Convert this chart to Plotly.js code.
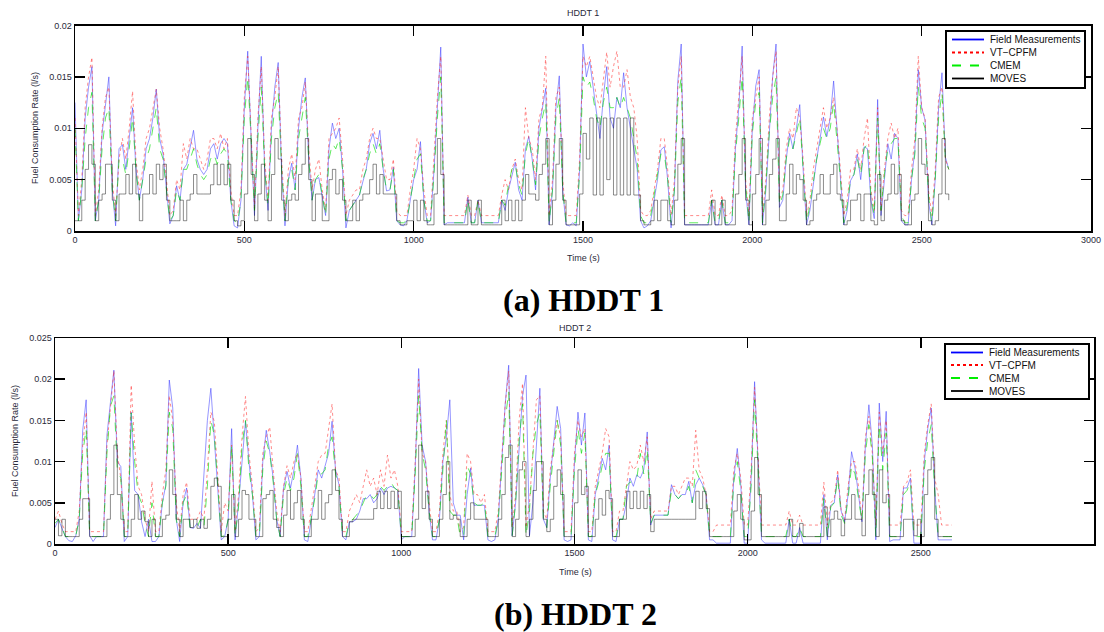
<!DOCTYPE html>
<html>
<head>
<meta charset="utf-8">
<script src="https://cdn.plot.ly/plotly-3.0.1.min.js"></script>
<style>html,body{margin:0;padding:0;background:#fff}#chart{width:1104px;height:632px}</style>
</head>
<body>
<div id="chart"></div>
<script>
// Sampling step of the read-off series (s); values below are in mL/s
const SAMPLE_STEP_S = 10;
const ML_PER_L = 1000;
const seriesNames = ['Field Measurements', 'VT\u2212CPFM', 'CMEM', 'MOVES'];
const xTickLabels = ['0', '500', '1000', '1500', '2000', '2500', '3000'];
const panelTitles = ['HDDT 1', 'HDDT 2'];
const captions = ['(a) HDDT 1', '(b) HDDT 2'];

// ---------- HDDT 1 (t = 0 .. 2580 s) ----------
const hddt1Field = [
12.5,1.0,4,11,14,16,1.0,3,9.5,12,
15,4,0.5,8,8.4,6,9,12,6,3,
5,8,9,11,13.8,9,7.5,4,0.7,1.5,
4.4,3,6,6.5,8,9.8,7,6,5.5,6,
8,8.5,7,8.5,9,8.5,3,0.5,0.3,3,
12,17.5,9,1.5,10,17,6,2,10,14,
16.4,6,0.5,5,6.6,4,10,13,14.9,7,
3,5,5.2,3.5,1.5,8,10.5,9,10,6,
0.3,2,2.5,3,3.5,4.8,6,8.5,9.5,8,
9.8,6,3.9,4,6.2,1,0.6,0.5,1,3,
5,6,8.7,3,0.8,1,5.9,12,17.9,0.6,
0.8,0.8,0.8,0.8,0.8,0.8,3.3,0.8,0.8,3,
0.8,0.8,0.8,0.8,0.8,0.8,3,2,4,5.5,
6.7,4,3,8,9.2,7,4,10,12,13.9,
0.6,4,12,15.1,4,0.6,0.5,0.8,0.5,6,
18.2,15,16.5,14,11,9,13,16,11,10,
13,12,15.4,12,10,8,6,1,0.3,0.5,
1,3,5,7.9,8.2,5,0.3,4,14.6,18.2,
0.6,0.6,0.6,0.6,0.6,0.6,0.6,0.6,3,0.6,
0.6,3,0.6,0.6,1,8,12,18,4,0.6,
10,14.1,15.7,0.6,4,10,15,18.2,2.3,3,
7,9.5,8,10,12.3,6,0.6,2,4.8,7,
9,11.1,9.2,11,14.6,9.8,5,0.6,2,4.9,
5.5,7.5,5,8.2,8,3,1.2,12.8,1.5,5,
8.5,7,9.5,9,1,0.6,0.6,5,7.9,15.7,
12,10.8,3,0.6,5,12,15.4,7.2,6
];
const hddt1Vtcpfm = [
11,1.5,5,12,15,16.9,1.5,4,10,13,
14,5,1.5,7,9,7,10,13.6,7,4,
6,9,10,12,13.8,10,8,5,1.5,2,
5,4,8.5,7,9,8,8,7,6,7,
9,9,8,9.5,8,9,4,1.5,1.5,4,
13,17,10,2,11,16,7,3,11,13,
16,7,1.5,6,7.5,5,11,12,14.5,8,
4,6,7,4,2,9,9.5,10,11,7,
1.5,3,3.5,4,4,6,7,9,10,9,
9,7,5,5,7,2,1.5,1.5,1.5,4,
6,9,8,4,1.5,1.5,7,13,17,1.5,
1.5,1.5,1.5,1.5,1.5,1.5,3.5,1.5,1.5,3,
1.5,1.5,1.5,1.5,1.5,1.5,3.5,5,4,6,
7,5,4,12,9,8,5,11,12,17,
1.5,5,13,14,5,1.5,1.5,1.5,1.5,7,
17,16,17,15,13,12,15,17.4,14,16,
17.5,14,14,15.7,13,12,9,2,1.5,1.5,
2,4,6,9,9,6,1.5,5,14,17,
1.5,1.5,1.5,1.5,1.5,1.5,1.5,1.5,4,1.5,
1.5,3.5,1.5,1.5,2,9,13,17,5,1.5,
11,13,15,1.5,5,11,15,17.5,3,4,
8,10,9,12,11,7,1.5,3,6,8,
10,12,10,11,13,10,6,1.5,3,6,
6,8,6,9,11,4,2,12,2,6,
9,10.5,9,10,2,1.5,1.5,6,9,17,
12,11,4,1.5,6,13,14,7,6
];
const hddt1Cmem = [
10,1,4,9,12,13.5,1,3,8,11,
12,4,1,7,7,5.5,8,11,6,3,
5,7,8,10,12,8,7,4,1,1.5,
4,3,6,6,7,8,6.5,5.5,5,5.5,
7,7.5,6.5,7.5,8,7.5,3,1,0.8,3,
11,15,9,2,9,14,6,2.5,9,12,
13.5,6,1,5,6,4,9,11,13,7,
3,5,5.5,3.5,1.5,7,8.5,8,9,6,
1,2,2.5,3,3.5,5,6,7.5,8.5,7.5,
8.5,6,4,4,6,1,0.8,0.8,1,3,
5,7,7.5,3,1,1,5.5,11,15,0.8,
0.8,0.8,0.8,0.8,0.8,0.8,3,0.8,0.8,3,
0.8,0.8,0.8,0.8,0.8,0.8,3,2.5,4.5,6,
6.5,4.5,3.5,7.5,9,7,4.5,9,11,12.5,
0.8,4,11,13,4,0.8,0.8,0.8,0.8,5.5,
15,14,14.5,13,11,10,12.5,14,12,12,
13,12,13,12,11,9,7,1.5,0.8,0.8,
1.5,3.5,5.5,7.5,7.5,5,0.8,4,12.5,15,
0.8,0.8,0.8,0.8,0.8,0.8,0.8,0.8,3,0.8,
0.8,3,0.8,0.8,1,7.5,11,15,4.5,0.8,
9.5,12.5,13.5,0.8,4.5,9.5,13,15,2.5,3.5,
7,9,8,9.5,11,6,0.8,2.5,5,7,
8.5,10,9,10,12.5,9,5,0.8,2.5,5,
5.5,7,5.5,8,8.5,3.5,1.5,11,2,5.5,
8,8.5,9,9,1.5,0.8,0.8,5,7.5,14,
11,10,3.5,0.8,5,11,13.5,7,6
];
const hddt1Moves = [
1,1,3,6,8.4,6.5,1,3,3.6,6.5,
6.5,3,1,3.6,3.6,5.5,3.6,6.5,3.6,1,
3.6,3.6,5.5,3.6,6.5,5,6.5,3,1,1,
1,3,1,3,3.6,5.5,3.6,3.6,3.6,3.6,
4.5,6.5,4.5,6.5,4.5,6.5,3,1,0.5,1,
3.6,9,5.5,1,3.6,6.5,3,1,5.5,9,
7,3,1,3,3.6,3,5.5,6.5,9,5,
1,3.6,3.6,1,1,5,6,3.6,5,3,
1,1,3,1,3,3.6,3.6,5,6.5,3.6,
5.5,3.6,3.6,3.6,3.6,1,0.6,0.6,1,1,
3,1,3,1,0.6,0.6,3.6,9,5.5,0.6,
0.6,0.6,0.6,0.6,0.6,0.6,3,0.6,0.6,3,
0.6,0.6,0.6,0.6,0.6,0.6,3,1,3,1,
3,1,3,5.5,3.6,3.6,3,5.5,6.5,9,
0.6,3,6.5,9,3,0.6,0.6,0.6,0.6,3.6,
9.5,7,11,3.5,11,3.5,11,5,11,3.5,
11,3.5,11,3.5,11,3.5,3.5,1,0.6,0.6,
1,3,1,3,3,1,0.6,3,6.5,9,
0.6,0.6,0.6,0.6,0.6,0.6,0.6,0.6,3,0.6,
0.6,3,0.6,0.6,0.6,3.6,5.5,9,3,0.6,
3.6,5.5,9,0.6,3,5.5,7,9,1,1,
3.6,6.5,3.6,5.5,5,3,0.6,1,3,3.6,
5.5,3.6,3.6,5.5,6.5,3.6,3,0.6,1,3,
3,3.6,1,3.6,3.6,1,0.6,5.5,1,3,
3.6,6.5,3.6,5.5,1,0.6,0.6,3,3.6,9,
6.5,5.5,1,0.6,1,3.6,9,3.6,3
];

// ---------- HDDT 2 (t = 0 .. 2590 s) ----------
const hddt2Field = [
2,3,1.9,0.9,0.4,0.3,1,3,13.8,17.5,
1,0.3,0.9,0.9,0.9,13.2,17,21.1,10,9.4,
0.3,0.9,16,6.5,6,2.7,0.9,3,0.3,0.3,
0.9,5,7.2,19.9,16.5,3,0.3,5,6.8,2,
1.9,2.5,1.9,8,15,18.9,13,7.2,0.5,0.9,
3,14,0.5,5,10,14.9,10,6,0.5,0.9,
10,13.8,11.2,8,3,0.9,6.8,8.8,6.8,9,
12,8,0.5,0.3,3,6,9,8,9.5,11,
14.9,9,7.2,0.9,0.5,2.7,2.7,3,4,5.5,
5.5,6,5,5.5,6.8,6,6.8,7,6.8,6.5,
0.5,0.9,0.9,0.9,9.2,21.3,12,10,4,0.5,
0.5,3,10,13,17.5,5,3.5,3.5,0.5,6,
9.2,4.7,4.7,4.7,4.7,0.5,0.3,0.5,3,10,
17,21.7,1,5,12,18,20.5,1,5,12,
18.9,3,2,8,12,16.7,14,0.5,0.3,0.5,
10,16,12,15.9,0.5,0.3,6,8,10.4,9,
12,0.5,0.3,3,3,5,8,7,8.4,8,
9,13.6,2.3,3.5,3.5,3.5,3.5,3.5,7.2,6,
5.5,6,6,7.6,5,7.2,8,7.2,6,0.5,
0.5,0.1,0.1,0.1,0.1,0.1,8,11.6,7.2,0.1,
0.1,8,19.7,9.6,0.5,0.1,0.1,0.1,0.1,0.1,
0.1,0.1,3,0.1,0.1,2,0.1,0.1,0.1,0.1,
0.1,0.1,6,0.5,4.7,5,8.4,4,2.7,6,
11.2,9.2,6,2.7,12,16.9,12,0.5,17.1,10,
16.1,0.3,0.5,0.5,0.5,6.8,6.8,8,0.1,0.1,
0.1,10,14,16.5,6.8,0.5,0.5,0.5,0.5,0.5
];
const hddt2Vtcpfm = [
3,4,2.5,1.5,1.5,1.5,1.5,4,12,16,
1.5,1.5,1.5,1.5,1.5,12,17,21,11,8,
1.5,1.5,19.3,12,7,6,3,1.5,7.6,1.5,
1.5,6,9,18,15,5,1.5,6,7.5,3,
3,3,4,3,9,16,14.9,8,1.5,5,
4,12,1.5,6,13,17.9,11,7,1.5,2,
11,13,14.2,9,4,1.5,7,9.5,8,10,
11,8,1.5,1.5,4,7,10,10.8,11,14,
17,9,8,1.5,1.5,4,5,6,5,7,
9,7,8,6,9,7,10.8,8,9,7,
1.5,1.5,1.5,1.5,10,20,11,10,5,1.5,
1.5,4,11,15,6,4,4,1.5,2,11,
10,6,6,5,6,1.5,1.5,1.5,4,11,
17,21,2,6,15,19.5,2,5,12,17.5,
18,4,3,9,12,15,13,1.5,1.5,1.5,
11,15,13,14,1.5,1.5,7,9,11,14,
13,1.5,1.5,4,4,7,10,9,9.5,12,
10,13,3,4,4,4,4,4,7,7,
6,7,8,8,7,13.8,9,8,6,1.5,
1.5,2.3,2.3,2.3,2.3,2.3,9,11,8,2.3,
2.3,9,19,10,2.3,2.3,2.3,2.3,2.3,2.3,
2.3,2.3,4,2.3,2.3,3.5,2.3,2.3,2.3,2.3,
2.3,2.3,7.5,2.3,5,5.5,9,4,3,7,
10,10,7,3,13,15.5,11,2.3,16,11,
15,2.3,2.3,2.3,2.3,7,7.5,9,2.3,2.3,
2.3,11,14.5,17,8,6,2.3,2.3,2.3,2.3
];
const hddt2Cmem = [
2.5,3,2,0.9,0.9,0.9,1,3,11,14,
1,0.9,0.9,0.9,0.9,11,16.7,18,9,8,
0.9,0.9,15.9,10,6,5,2.5,0.9,5,0.9,
0.9,5,7,16,14,3,0.9,5,6,2,
2,2,3,2,7,15,13.2,7,0.9,1,
3,12,1,4.5,12,15,9,6,0.9,1,
9,12.5,11,7.5,3,0.9,6,8,6.5,8,
11,7,0.9,0.9,3,5.5,8.5,8.5,9,12,
13,8.5,7,0.9,0.9,2.7,3,3.5,4,5,
6,6,5.5,6,7,6.5,7,7.5,6.8,6.5,
0.9,0.9,0.9,0.9,8.5,18,11,9,4,0.9,
0.9,3,9,15,4,3.5,3.5,0.9,1,9.5,
8.5,5,4.7,4.7,5,0.9,0.9,0.9,3,9,
15,18.5,1,5,12.5,17,1,4,11,14.5,
16,3,2,7,11,15,12,0.9,0.9,0.9,
9,14,11,13.5,0.9,0.9,6,7.5,9.5,11,
11,0.9,0.9,3,3,7,7.5,7.5,8,11,
8.5,11.5,2.5,3.5,3.5,3.5,3.5,3.5,6.5,6,
5.5,6,6,7,5,9,8,7,6,0.9,
0.9,0.9,0.9,0.9,0.9,0.9,7.5,10,6.5,0.9,
0.9,7,17.5,9,0.9,0.9,0.9,0.9,0.9,0.9,
0.9,0.9,3,0.9,0.9,2,0.9,0.9,0.9,0.9,
0.9,0.9,5.5,0.9,4.5,5,8,3.5,2.5,5.5,
9.5,8.5,5.5,2.7,11,14.5,10.5,0.9,14.5,9,
13.5,0.9,0.9,0.9,0.9,6,6.5,7.5,0.9,0.9,
0.9,9,12.5,14.5,6.5,0.9,0.9,0.9,0.9,0.9
];
const hddt2Moves = [
3,1,3,0.9,0.9,0.9,0.9,3,5.5,5.5,
0.9,0.9,0.9,0.9,0.9,3,6,12,6,3,
0.9,0.9,3,6,3,4,2.7,0.9,3,0.9,
0.9,3,3.5,9,6,3,0.9,3,3,2,
3,1.9,3,1.9,3,7,8,7,0.9,0.9,
3,6,0.9,3,6.5,6,3,3,0.9,0.9,
5.5,6,6.5,3,2,0.9,3.5,6.5,3,5,
6.5,3,0.9,0.9,3,3,6.5,3,5,6,
9,6.5,3,0.9,0.9,2.7,3,3,3,3,
3,3,4.3,6.4,4.3,6.4,4.3,6.4,4.3,6.4,
0.9,0.9,0.9,0.9,3,12,4.3,6.4,3,0.9,
0.9,3,6,10,3,3.5,3,0.9,0.9,3,
5,3,3,3,3,0.9,0.9,0.9,3,6,
10.5,12,0.9,3,9,10,0.9,3,6.5,10,
10,3,1.5,3,7,9,6,0.9,0.9,0.9,
5,9,6,7,0.9,0.9,3,5.5,3.5,6.5,
5.5,0.9,0.9,3,3,6.4,4.3,6.4,4.3,6.4,
4.3,6,1.5,3,3,3,3,3,3,3,
3,3,3,3,3,6.4,4.3,6.4,4.3,0.9,
0.9,0.9,0.9,0.9,0.9,0.9,4,6,3,0.5,
0.5,4,10.5,6,0.9,0.9,0.9,0.9,0.9,0.9,
0.9,0.9,3,0.9,0.9,2.5,0.9,0.9,0.9,0.9,
0.9,0.9,4.5,0.9,3,4,3,1,3,3,
6,3,3,1,6,9,6,0.9,9,5,
6,0.9,0.9,0.9,0.9,3,3,3,1,3,
0.9,6,9,10.5,3,0.9,0.9,0.9,0.9,0.9
];

// ---------- styles ----------
const styles = [
  {color: 'rgba(60,60,255,0.6)', legendColor: '#0000ff', width: 0.9, dash: 'solid', shape: 'linear'},
  {color: 'rgba(255,40,40,0.6)', legendColor: '#ff0000', width: 0.9, dash: 'dot', shape: 'linear'},
  {color: 'rgba(0,220,0,0.7)', legendColor: '#00ee00', width: 0.9, dash: 'dash', shape: 'linear'},
  {color: 'rgba(0,0,0,0.5)', legendColor: '#000000', width: 0.9, dash: 'solid', shape: 'hv'}
];

function toLps(arr) { return arr.map(v => v / ML_PER_L); }
function timeAxis(arr) { return arr.map((_, i) => i * SAMPLE_STEP_S); }

const panels = [
  {series: [hddt1Field, hddt1Vtcpfm, hddt1Cmem, hddt1Moves], xa: 'x', ya: 'y'},
  {series: [hddt2Field, hddt2Vtcpfm, hddt2Cmem, hddt2Moves], xa: 'x2', ya: 'y2'}
];

const traces = [];
panels.forEach(p => {
  p.series.forEach((vals, k) => {
    const s = styles[k];
    traces.push({
      type: 'scatter', mode: 'lines', name: seriesNames[k], showlegend: false,
      x: timeAxis(vals), y: toLps(vals),
      xaxis: p.xa, yaxis: p.ya,
      line: {color: s.color, width: s.width, dash: s.dash, shape: s.shape},
      hoverinfo: 'skip'
    });
  });
});

const FONT = 'Liberation Sans, Arial, sans-serif';
const tickFont = {family: FONT, size: 9, color: '#2a2a3a'};
function xAxis(domain, anchor) {
  return {domain, anchor, range: [0, 3000], tickvals: [0,500,1000,1500,2000,2500,3000], ticktext: xTickLabels,
    showline: true, mirror: 'ticks', linecolor: '#000', linewidth: 1.5, ticks: 'inside', ticklen: 10,
    tickwidth: 1.5, tickcolor: '#000', showgrid: false, zeroline: false, tickfont: tickFont, automargin: false, fixedrange: true};
}
function yAxis(domain, anchor, max) {
  return {domain, anchor, range: [0, max], dtick: 0.005, tick0: 0,
    showline: true, mirror: 'ticks', linecolor: '#000', linewidth: 1.5, ticks: 'inside', ticklen: 10,
    tickwidth: 1.5, tickcolor: '#000', showgrid: false, zeroline: false, tickfont: tickFont, automargin: false, fixedrange: true};
}

const W = 1104, H = 632;
const px = v => v / W, py = v => 1 - v / H;

const labelFont = {family: FONT, size: 9, color: '#2a2a3a'};
const capFont = {family: 'Liberation Serif, Times New Roman, serif', size: 32, color: '#000'};

function ann(text, x, y, font, extra) {
  return Object.assign({text, x: px(x), y: py(y), xref: 'paper', yref: 'paper', showarrow: false,
    xanchor: 'center', yanchor: 'middle', font}, extra || {});
}

const annotations = [
  ann(panelTitles[0], 583, 13, labelFont),
  ann(panelTitles[1], 575, 328, labelFont),
  ann('Time (s)', 583, 258, labelFont),
  ann('Time (s)', 575, 572, labelFont),
  ann('Fuel Consumption Rate (l/s)', 35, 128, labelFont, {textangle: -90}),
  ann('Fuel Consumption Rate (l/s)', 15, 441, labelFont, {textangle: -90}),
  ann('<b>' + captions[0] + '</b>', 583, 300, capFont),
  ann('<b>' + captions[1] + '</b>', 575, 614, capFont)
];
const shapes = [];

// Compact MATLAB-style legends drawn as shapes + text
const legendBoxes = [
  {x0: 946, x1: 1085, y0: 31, y1: 88, rows: [39.5, 52.5, 65.5, 78.5]},
  {x0: 945, x1: 1089, y0: 344, y1: 399, rows: [352.5, 365, 378, 391]}
];
const legendFont = {family: FONT, size: 10, color: '#111'};
legendBoxes.forEach(b => {
  shapes.push({type: 'rect', xref: 'paper', yref: 'paper', x0: px(b.x0), x1: px(b.x1), y0: py(b.y1), y1: py(b.y0),
    line: {color: '#000', width: 2}, fillcolor: '#fff', layer: 'above'});
  b.rows.forEach((ry, k) => {
    const s = styles[k];
    shapes.push({type: 'line', xref: 'paper', yref: 'paper', x0: px(b.x0 + 6), x1: px(b.x0 + 38), y0: py(ry), y1: py(ry),
      line: {color: s.legendColor, width: 1.8, dash: s.dash}, layer: 'above'});
    annotations.push(ann(seriesNames[k], b.x0 + 42, ry, legendFont, {xanchor: 'left'}));
  });
});

const layout = {
  width: W, height: H, margin: {l: 0, r: 0, t: 0, b: 0},
  paper_bgcolor: '#fff', plot_bgcolor: '#fff', showlegend: false,
  xaxis: xAxis([px(75), px(1091)], 'y'),
  yaxis: yAxis([py(231), py(25.5)], 'x', 0.02),
  xaxis2: xAxis([px(55), px(1094)], 'y2'),
  yaxis2: yAxis([py(544), py(338)], 'x2', 0.025),
  annotations, shapes
};

Plotly.newPlot('chart', traces, layout, {staticPlot: true, displayModeBar: false});
</script>
</body>
</html>
